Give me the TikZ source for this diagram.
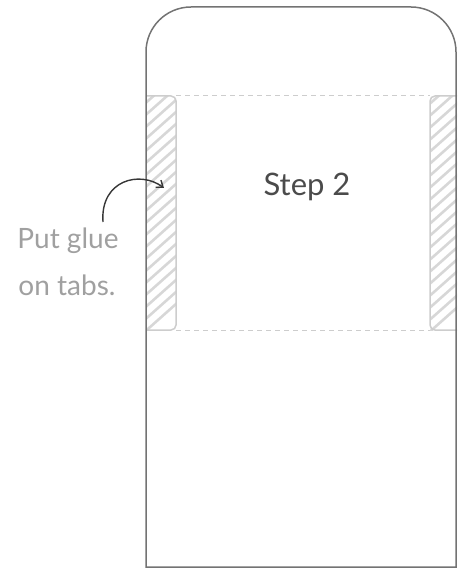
\documentclass[tikz,border=0pt]{standalone}
\usepackage{fontspec}
\setmainfont{Lato}
\usetikzlibrary{arrows.meta}
\definecolor{outline}{RGB}{115,115,115}
\definecolor{tabline}{RGB}{205,205,205}
\definecolor{hatch}{RGB}{215,215,215}
\definecolor{labelgray}{RGB}{160,160,160}
\definecolor{titlegray}{RGB}{75,75,75}
\definecolor{arrowgray}{RGB}{55,55,55}
\tikzset{
  outerline/.style={draw=outline, line width=1.5pt},
  foldline/.style={draw=tabline, line width=1pt, dash pattern=on 5pt off 4pt},
  tabbox/.style={draw=tabline, line width=1.5pt},
  hatchline/.style={draw=hatch, line width=2.6pt},
  labeltext/.style={text=labelgray, font=\fontsize{28}{34}\selectfont, inner sep=0pt, anchor=base},
  titletext/.style={text=titlegray, font=\fontsize{31}{36}\selectfont, inner sep=0pt, anchor=base},
  pointer/.style={draw=arrowgray, line width=1.4pt, -{Straight Barb[length=6pt,width=9pt]}}
}
\begin{document}
\begin{tikzpicture}[x=1pt,y=-1pt]
\useasboundingbox (0,0) rectangle (463,569);
% left tab
\begin{scope}
\clip (147,96) rectangle (176,330);
\foreach \k in {-40,-28,...,300} {
  \draw[hatchline] (140,\k+40) -- (185,\k);
}
\end{scope}
\draw[tabbox] (147,96) -- (171,96) arc[start angle=270,end angle=360,radius=5] -- (176,325) arc[start angle=0,end angle=90,radius=5] -- (147,330);
% right tab
\begin{scope}
\clip (430,96) rectangle (457,330);
\foreach \k in {-40,-28,...,300} {
  \draw[hatchline] (425,\k+40) -- (470,\k);
}
\end{scope}
\draw[tabbox] (457,96) -- (435,96) arc[start angle=270,end angle=180,radius=5] -- (430,325) arc[start angle=180,end angle=90,radius=5] -- (457,330);
% fold lines
\draw[foldline] (176,96) -- (430,96);
\draw[foldline] (176,330) -- (430,330);
% outer shape
\draw[outerline] (146,567) -- (146,52) arc[start angle=180,end angle=270,radius=45] -- (411,7) arc[start angle=270,end angle=360,radius=45] -- (456,567) -- cycle;
% texts
\node[titletext] (title) at (307,196) {Step 2};
\node[labeltext] (label1) at (68,248) {Put glue};
\node[labeltext] (label2) at (67,295) {on tabs.};
\coordinate (start) at (103,222);
\coordinate (target) at (164,188);
\draw[pointer] (start) .. controls (100,180) and (140,170) .. (target);
\end{tikzpicture}
\end{document}
